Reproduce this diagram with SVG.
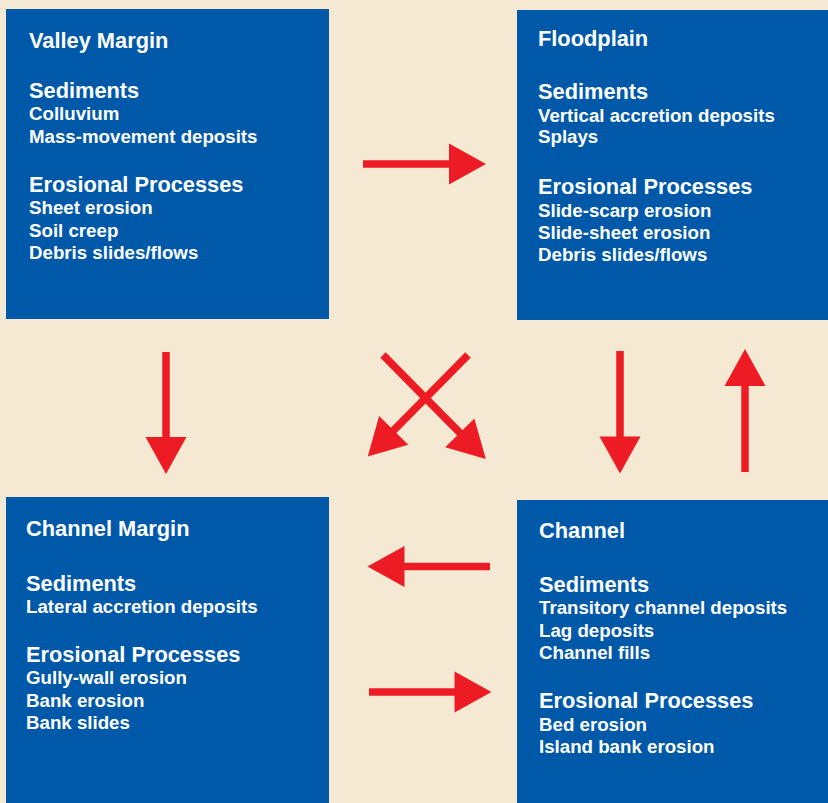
<svg xmlns="http://www.w3.org/2000/svg" width="828" height="803" viewBox="0 0 828 803">
  <style>
    .box { fill: #0059A8; }
    .title { font-family: "Liberation Sans", Arial, sans-serif; font-weight: bold; font-size: 21.8px; fill: #ffffff; }
    .item { font-family: "Liberation Sans", Arial, sans-serif; font-weight: bold; font-size: 18.7px; fill: #ffffff; }
    .arrow { stroke: #ED1C24; stroke-width: 7.5; fill: none; stroke-linecap: butt; }
  </style>
  <defs>
    <marker id="head" markerUnits="userSpaceOnUse" markerWidth="38" markerHeight="41" refX="1" refY="20.5" orient="auto" overflow="visible">
      <path d="M0,0 L37,20.5 L0,41 Z" fill="#ED1C24"/>
    </marker>
  </defs>

  <rect width="828" height="803" fill="#F6E9D3"/>

  <!-- Valley Margin -->
  <g id="valley-margin">
    <rect class="box" x="6" y="9" width="323" height="310"/>
    <text class="title" x="29" y="48">Valley Margin</text>
    <text class="title" x="29" y="98">Sediments</text>
    <text class="item" x="29" y="120">Colluvium</text>
    <text class="item" x="29" y="143">Mass-movement deposits</text>
    <text class="title" x="29" y="192">Erosional Processes</text>
    <text class="item" x="29" y="214">Sheet erosion</text>
    <text class="item" x="29" y="237">Soil creep</text>
    <text class="item" x="29" y="259">Debris slides/flows</text>
  </g>

  <!-- Floodplain -->
  <g id="floodplain">
    <rect class="box" x="517" y="10" width="311" height="310"/>
    <text class="title" x="538" y="46">Floodplain</text>
    <text class="title" x="538" y="99">Sediments</text>
    <text class="item" x="538" y="122">Vertical accretion deposits</text>
    <text class="item" x="538" y="143">Splays</text>
    <text class="title" x="538" y="194">Erosional Processes</text>
    <text class="item" x="538" y="217">Slide-scarp erosion</text>
    <text class="item" x="538" y="239">Slide-sheet erosion</text>
    <text class="item" x="538" y="261">Debris slides/flows</text>
  </g>

  <!-- Channel Margin -->
  <g id="channel-margin">
    <rect class="box" x="6" y="497" width="323" height="306"/>
    <text class="title" x="26" y="536">Channel Margin</text>
    <text class="title" x="26" y="591">Sediments</text>
    <text class="item" x="26" y="613">Lateral accretion deposits</text>
    <text class="title" x="26" y="662">Erosional Processes</text>
    <text class="item" x="26" y="684">Gully-wall erosion</text>
    <text class="item" x="26" y="707">Bank erosion</text>
    <text class="item" x="26" y="729">Bank slides</text>
  </g>

  <!-- Channel -->
  <g id="channel">
    <rect class="box" x="517" y="500" width="311" height="303"/>
    <text class="title" x="539" y="538">Channel</text>
    <text class="title" x="539" y="592">Sediments</text>
    <text class="item" x="539" y="614">Transitory channel deposits</text>
    <text class="item" x="539" y="637">Lag deposits</text>
    <text class="item" x="539" y="659">Channel fills</text>
    <text class="title" x="539" y="708">Erosional Processes</text>
    <text class="item" x="539" y="731">Bed erosion</text>
    <text class="item" x="539" y="753">Island bank erosion</text>
  </g>

  <!-- Connectors: each line stops at the base of its arrowhead -->
  <g id="connectors">
    <!-- Valley Margin -> Floodplain -->
    <line class="arrow" x1="363" y1="164" x2="450" y2="164" marker-end="url(#head)"/>
    <!-- Valley Margin -> Channel Margin -->
    <line class="arrow" x1="166" y1="352" x2="166" y2="438" marker-end="url(#head)"/>
    <!-- Valley Margin -> Channel (diagonal) -->
    <line class="arrow" x1="383" y1="355" x2="460.5" y2="433.5" marker-end="url(#head)"/>
    <!-- Floodplain -> Channel Margin (diagonal) -->
    <line class="arrow" x1="468" y1="355" x2="393" y2="431" marker-end="url(#head)"/>
    <!-- Floodplain -> Channel -->
    <line class="arrow" x1="620" y1="351" x2="620" y2="437.5" marker-end="url(#head)"/>
    <!-- Channel -> Floodplain -->
    <line class="arrow" x1="745" y1="472" x2="745" y2="385" marker-end="url(#head)"/>
    <!-- Channel -> Channel Margin -->
    <line class="arrow" x1="490" y1="566.5" x2="403.5" y2="566.5" marker-end="url(#head)"/>
    <!-- Channel Margin -> Channel -->
    <line class="arrow" x1="369" y1="692" x2="455.5" y2="692" marker-end="url(#head)"/>
  </g>
</svg>
